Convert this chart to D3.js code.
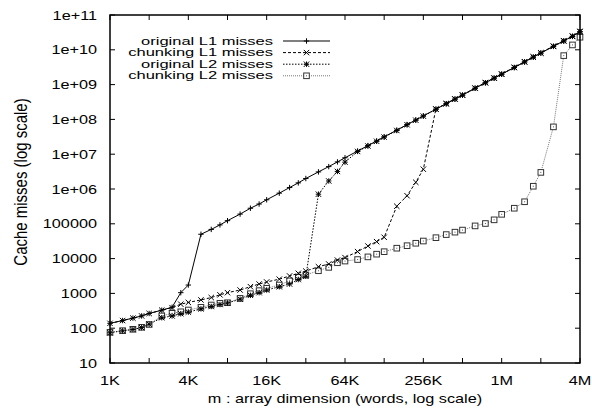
<!DOCTYPE html>
<html><head><meta charset="utf-8">
<script src="https://cdn.jsdelivr.net/npm/d3@7"></script>
<style>body{margin:0;background:#fff}svg{display:block}text{font-family:"Liberation Sans",Arial,sans-serif;fill:#000}</style>
</head><body>
<script>
// m : array dimension (words)
const sizes = [1024,1280,1536,1792,2048,2560,3072,3584,4096,5120,6144,7168,8192,10240,12288,14336,16384,20480,24576,28672,32768,40960,49152,57344,65536,81920,98304,114688,131072,163840,196608,229376,262144,327680,393216,458752,524288,655360,786432,917504,1048576,1310720,1572864,1835008,2097152,2621440,3145728,3670016,4194304];
const originalL1 = [138,166,195,225,265,330,400,1050,1740,50000,69000,93000,123000,190000,280000,370000,490000,760000,1.1e6,1.5e6,2.0e6,3.1e6,4.4e6,6.0e6,7.9e6,1.23e7,1.77e7,2.4e7,3.15e7,4.9e7,7.1e7,9.6e7,1.26e8,1.97e8,2.83e8,3.85e8,5.0e8,7.9e8,1.13e9,1.54e9,2.0e9,3.1e9,4.5e9,6.2e9,8.1e9,1.26e10,1.8e10,2.45e10,3.3e10];
const chunkingL1 = [138,166,195,225,265,330,390,490,550,650,760,910,1050,1250,1560,1860,2130,2560,3170,3780,4380,5850,6990,9060,10700,15900,23000,30700,41000,3.2e5,6.4e5,1.56e6,3.7e6,2.0e8,2.86e8,3.9e8,5.05e8,8.0e8,1.15e9,1.56e9,2.02e9,3.15e9,4.55e9,6.3e9,8.2e9,1.28e10,1.83e10,2.5e10,3.4e10];
const originalL2 = [74,84,92,104,130,200,225,260,290,360,420,480,530,680,880,1050,1250,1550,1860,2500,3100,7.1e5,1.7e6,3.2e6,5.9e6,1.2e7,1.72e7,2.35e7,3.1e7,4.8e7,7.0e7,9.5e7,1.24e8,1.95e8,2.8e8,3.8e8,4.95e8,7.8e8,1.12e9,1.52e9,1.98e9,3.08e9,4.45e9,6.1e9,8.0e9,1.25e10,1.78e10,2.42e10,3.3e10];
const chunkingL2 = [76,85,93,106,128,225,268,296,333,398,464,520,540,720,980,1200,1400,1740,2290,2900,3390,4480,5600,7600,8500,9400,11200,13400,15800,19900,23500,27600,32000,39900,49000,57500,66000,87000,1.02e5,1.3e5,1.87e5,2.8e5,4.3e5,1.2e6,3.0e6,6.1e7,6.8e9,1.38e10,2.3e10];
const seriesNames = ["original L1 misses","chunking L1 misses","original L2 misses","chunking L2 misses"];
const xTickValues = [1024,4096,16384,65536,262144,1048576,4194304];
const xTickLabels = ["1K","4K","16K","64K","256K","1M","4M"];
const yTickValues = [10,100,1000,1e4,1e5,1e6,1e7,1e8,1e9,1e10,1e11];
const yTickLabels = ["10","100","1000","10000","100000","1e+06","1e+07","1e+08","1e+09","1e+10","1e+11"];
const xTitle = "m : array dimension (words, log scale)";
const yTitle = "Cache misses (log scale)";

const W=592,H=416, L=110,R=580,T=15,B=363, SX=1.3, FS=12.5;
const svg=d3.select("body").append("svg").attr("width",W).attr("height",H);
const x=d3.scaleLog().base(2).domain([1024,4194304]).range([L,R]);
const y=d3.scaleLog().base(10).domain([10,1e11]).range([B,T]);

const styles=[
 {data:originalL1, dash:null, color:"#000", marker:"plus"},
 {data:chunkingL1, dash:"3,2", color:"#000", marker:"cross"},
 {data:originalL2, dash:"1.5,1.5", color:"#000", marker:"star"},
 {data:chunkingL2, dash:"1,1", color:"#777", marker:"square"}
];
function markerPath(type,cx,cy){
  const s=2.7;
  const p=`M${cx-s},${cy}H${cx+s}M${cx},${cy-s}V${cy+s}`;
  const c=`M${cx-s},${cy-s}L${cx+s},${cy+s}M${cx-s},${cy+s}L${cx+s},${cy-s}`;
  if(type==="plus")return p;
  if(type==="cross")return c;
  if(type==="star")return p+c;
  return "";
}
function drawMarker(g,type,cx,cy){
  if(type==="square"){
    g.append("rect").attr("x",cx-2.8).attr("y",cy-2.8).attr("width",5.6).attr("height",5.6)
     .attr("fill","#fff").attr("stroke","#333").attr("stroke-width",1);
    g.append("rect").attr("x",cx-0.5).attr("y",cy-0.5).attr("width",1).attr("height",1).attr("fill","#555");
  } else {
    g.append("path").attr("d",markerPath(type,cx,cy)).attr("stroke","#000").attr("stroke-width",1).attr("fill","none");
  }
}

// ticks (inward, all four sides)
const tg=svg.append("g").attr("stroke","#000").attr("stroke-width",1);
const allX=d3.range(10,23).map(k=>Math.pow(2,k));
allX.forEach(v=>{const px=x(v);
  tg.append("line").attr("x1",px).attr("x2",px).attr("y1",B).attr("y2",B-5);
  tg.append("line").attr("x1",px).attr("x2",px).attr("y1",T).attr("y2",T+5);});
yTickValues.forEach(v=>{const py=y(v);
  tg.append("line").attr("x1",L).attr("x2",L+5).attr("y1",py).attr("y2",py);
  tg.append("line").attr("x1",R).attr("x2",R-5).attr("y1",py).attr("y2",py);});

// tick labels
xTickValues.forEach((v,i)=>{
  svg.append("text").attr("transform",`translate(${x(v)},385) scale(${SX},1)`)
   .attr("text-anchor","middle").attr("font-size",FS).text(xTickLabels[i]);});
yTickValues.forEach((v,i)=>{
  svg.append("text").attr("transform",`translate(97,${y(v)+4.5}) scale(${SX},1)`)
   .attr("text-anchor","end").attr("font-size",FS).text(yTickLabels[i]);});

// titles
svg.append("text").attr("transform",`translate(${(L+R)/2},403) scale(${SX},1)`)
 .attr("text-anchor","middle").attr("font-size",FS).text(xTitle);
svg.append("text").attr("transform",`translate(27,${(T+B)/2-7}) scale(1.2,1) rotate(-90)`)
 .attr("text-anchor","middle").attr("font-size",15).text(yTitle);

// series (draw chunking L2 first, original L1 last)
const line=d3.line().x((d,i)=>x(sizes[i])).y(d=>y(d));
[3,2,1,0].forEach(si=>{
  const st=styles[si];
  svg.append("path").datum(st.data).attr("d",line).attr("fill","none")
   .attr("stroke",st.color).attr("stroke-width",1).attr("stroke-dasharray",st.dash);
  const g=svg.append("g");
  st.data.forEach((d,i)=>drawMarker(g,st.marker,x(sizes[i]),y(d)));
});

// legend (tightly stacked as in the reference)
seriesNames.forEach((n,i)=>{
  const cy=41+i*11.6;
  svg.append("text").attr("transform",`translate(273,${cy+3.6}) scale(1.65,1)`)
   .attr("text-anchor","end").attr("font-size",10).text(n);
  const st=styles[i];
  svg.append("line").attr("x1",283).attr("x2",330).attr("y1",cy).attr("y2",cy)
   .attr("stroke",st.color).attr("stroke-width",1).attr("stroke-dasharray",st.dash);
  drawMarker(svg.append("g"),st.marker,306.5,cy);
});

// frame
svg.append("rect").attr("x",L).attr("y",T).attr("width",R-L).attr("height",B-T)
 .attr("fill","none").attr("stroke","#000").attr("stroke-width",1.5);
</script>
</body></html>
